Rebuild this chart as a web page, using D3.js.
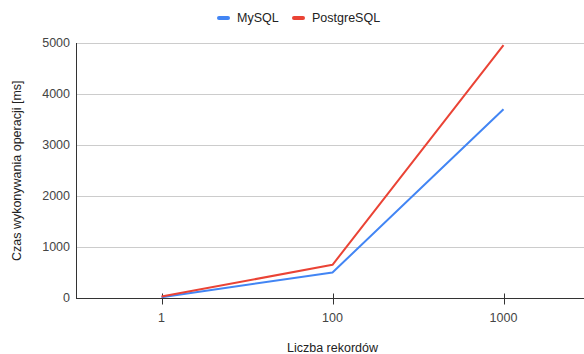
<!DOCTYPE html>
<html>
<head>
<meta charset="utf-8">
<script src="https://cdn.jsdelivr.net/npm/d3@7"></script>
<style>
  body { margin: 0; background: #fff; }
  svg text { font-family: Arial, "Liberation Sans", sans-serif; }
</style>
</head>
<body>
<div id="chart"></div>
<script>
// data
var categories = ["1", "100", "1000"];
var mysql = [15, 500, 3700];
var postgres = [30, 650, 4960];
var yTicks = [0, 1000, 2000, 3000, 4000, 5000];
var seriesNames = ["MySQL", "PostgreSQL"];
var seriesColors = ["#4285f4", "#ea4335"];

var width = 584, height = 354;
var margin = { top: 43, right: -5, bottom: 56, left: 76 };

var svg = d3.select("#chart").append("svg")
    .attr("width", width)
    .attr("height", height);

var x = d3.scalePoint()
    .domain(categories)
    .range([margin.left, width - margin.right])
    .padding(0.5);

var y = d3.scaleLinear()
    .domain([0, 5000])
    .range([height - margin.bottom, margin.top]);

// gridlines
svg.append("g")
    .selectAll("line")
    .data(yTicks.filter(d => d > 0))
    .enter().append("line")
    .attr("x1", margin.left)
    .attr("x2", width)
    .attr("y1", d => Math.round(y(d)) + 0.5)
    .attr("y2", d => Math.round(y(d)) + 0.5)
    .attr("stroke", "#cccccc")
    .attr("stroke-width", 1);

// y tick labels
svg.append("g")
    .selectAll("text")
    .data(yTicks)
    .enter().append("text")
    .attr("x", margin.left - 6)
    .attr("y", d => y(d))
    .attr("dy", "0.35em")
    .attr("text-anchor", "end")
    .attr("font-size", 12.5)
    .attr("fill", "#444")
    .text(d => d);

// axis lines
var y0 = Math.round(y(0)) + 0.5;
svg.append("line")
    .attr("x1", margin.left + 0.5).attr("x2", margin.left + 0.5)
    .attr("y1", y(5000)).attr("y2", y0)
    .attr("stroke", "#333");

// x ticks and labels
var xg = svg.append("g");
xg.selectAll("line")
    .data(categories)
    .enter().append("line")
    .attr("x1", d => Math.round(x(d)) + 0.5)
    .attr("x2", d => Math.round(x(d)) + 0.5)
    .attr("y1", y0 - 5)
    .attr("y2", y0 + 6)
    .attr("stroke", "#333");
xg.selectAll("text")
    .data(categories)
    .enter().append("text")
    .attr("x", d => x(d))
    .attr("y", y0 + 19)
    .attr("dy", "0.35em")
    .attr("text-anchor", "middle")
    .attr("font-size", 12.5)
    .attr("fill", "#444")
    .text(d => d);

// lines
var series = [mysql, postgres];
var line = d3.line()
    .x((d, i) => x(categories[i]))
    .y(d => y(d));

series.forEach(function (s, k) {
    svg.append("path")
        .datum(s)
        .attr("fill", "none")
        .attr("stroke", seriesColors[k])
        .attr("stroke-width", 2)
        .attr("stroke-linejoin", "round")
        .attr("d", line);
});

svg.append("line")
    .attr("x1", margin.left).attr("x2", width)
    .attr("y1", y0).attr("y2", y0)
    .attr("stroke", "#333");

// axis titles
svg.append("text")
    .attr("transform", "translate(17," + ((margin.top + y0) / 2) + ") rotate(-90)")
    .attr("text-anchor", "middle")
    .attr("dy", "0.35em")
    .attr("font-size", 12.5)
    .attr("fill", "#222")
    .text("Czas wykonywania operacji [ms]");

svg.append("text")
    .attr("x", x("100"))
    .attr("y", 348)
    .attr("dy", "0.35em")
    .attr("text-anchor", "middle")
    .attr("font-size", 12.5)
    .attr("fill", "#222")
    .text("Liczba rekordów");

// legend
var legendX = [217, 292];
var lg = svg.append("g");
seriesNames.forEach(function (name, k) {
    lg.append("rect")
        .attr("x", legendX[k])
        .attr("y", 16)
        .attr("width", 13)
        .attr("height", 4)
        .attr("rx", 2)
        .attr("fill", seriesColors[k]);
    lg.append("text")
        .attr("x", legendX[k] + 20)
        .attr("y", 18)
        .attr("dy", "0.35em")
        .attr("font-size", 12.5)
        .attr("fill", "#222")
        .text(name);
});
</script>
</body>
</html>
